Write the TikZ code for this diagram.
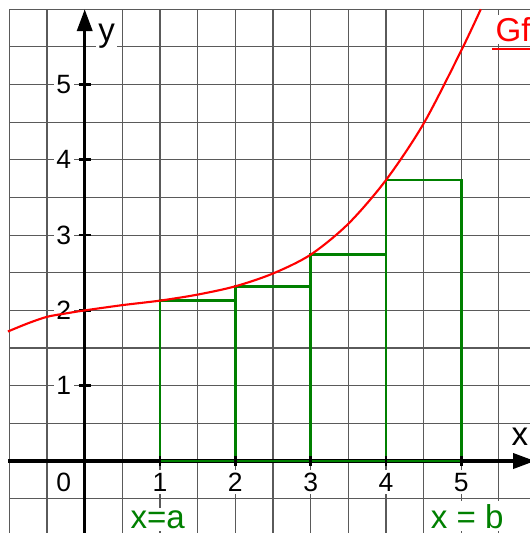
\documentclass[tikz,border=0pt]{standalone}
\usepackage{fontspec}
\setmainfont{Liberation Sans}
\usetikzlibrary{arrows.meta}
\definecolor{gr}{RGB}{0,128,0}
\definecolor{gridc}{RGB}{90,90,90}
\begin{document}
\begin{tikzpicture}[x=1cm,y=1cm,
  gridline/.style={draw=gridc, line width=0.45pt},
  axis/.style={line width=1.3pt, -{Triangle[length=8.3pt,width=5.7pt]}},
  tickmark/.style={line width=1pt},
  ticklabel/.style={font=\fontsize{10}{12}\selectfont, fill=white, inner sep=1pt},
  biglabel/.style={font=\fontsize{12.5}{15}\selectfont, fill=white, inner sep=1pt},
  box/.style={draw=gr, line width=1pt},
  curve/.style={draw=red, line width=0.8pt}]
\useasboundingbox (-1.125,-0.956) rectangle (5.913,6.122);
\clip (-1.125,-0.956) rectangle (5.913,6.122);
% grid
\foreach \x in {-1,-0.5,...,5.5} \draw[gridline] (\x,-1) -- (\x,6);
\foreach \y in {-0.5,0,...,6} \draw[gridline] (-1,\y) -- (6.2,\y);
% labels
\node[ticklabel] (l0) at (-0.28,-0.28) {0};
\foreach \x in {1,...,5} \node[ticklabel] (lx\x) at (\x,-0.28) {\x};
\foreach \y in {1,...,5} \node[ticklabel] (ly\y) at (-0.28,\y) {\y};
\node[biglabel, anchor=base] (ylab) at (0.29,5.57) {y};
\node[biglabel, anchor=base] (xlab) at (5.78,0.2125) {x};
\node[biglabel, text=gr, anchor=base] (xa) at (0.97,-0.89) {x=a};
\node[biglabel, text=gr, anchor=base] (xb) at (5.08,-0.89) {x = b};
\node[biglabel, text=red, anchor=base west] (gf) at (5.415,5.575) {Gf};
\draw[red, line width=0.75pt] ([yshift=-3.1pt]gf.base west) -- ([yshift=-3.1pt]gf.base east);
% axes
\coordinate (xs) at (-1.02,0);
\coordinate (xe) at (5.98,0);
\coordinate (ys) at (0,-1.1);
\coordinate (ye) at (0,6.0);
\draw[axis] (xs) -- (xe);
\draw[axis] (ys) -- (ye);
% rectangles
\draw[box] (1,0) rectangle (2,2.13);
\draw[box] (2,0) rectangle (3,2.32);
\draw[box] (3,0) rectangle (4,2.74);
\draw[box] (4,0) rectangle (5,3.73);
% ticks
\foreach \x in {1,...,5} \draw[tickmark] (\x,-0.06) -- (\x,0.06);
\foreach \y in {1,...,5} \draw[tickmark] (-0.08,\y) -- (0.08,\y);
% curve
\draw[curve] plot[smooth] coordinates {(-1.02,1.72) (-0.75,1.83) (-0.5,1.915) (-0.25,1.96) (0,2.0) (0.5,2.07) (1,2.13) (1.5,2.21) (2,2.32) (2.5,2.49) (3,2.74) (3.5,3.15) (4,3.73) (4.5,4.48) (5,5.45) (5.26,6.0)};
\end{tikzpicture}
\end{document}
